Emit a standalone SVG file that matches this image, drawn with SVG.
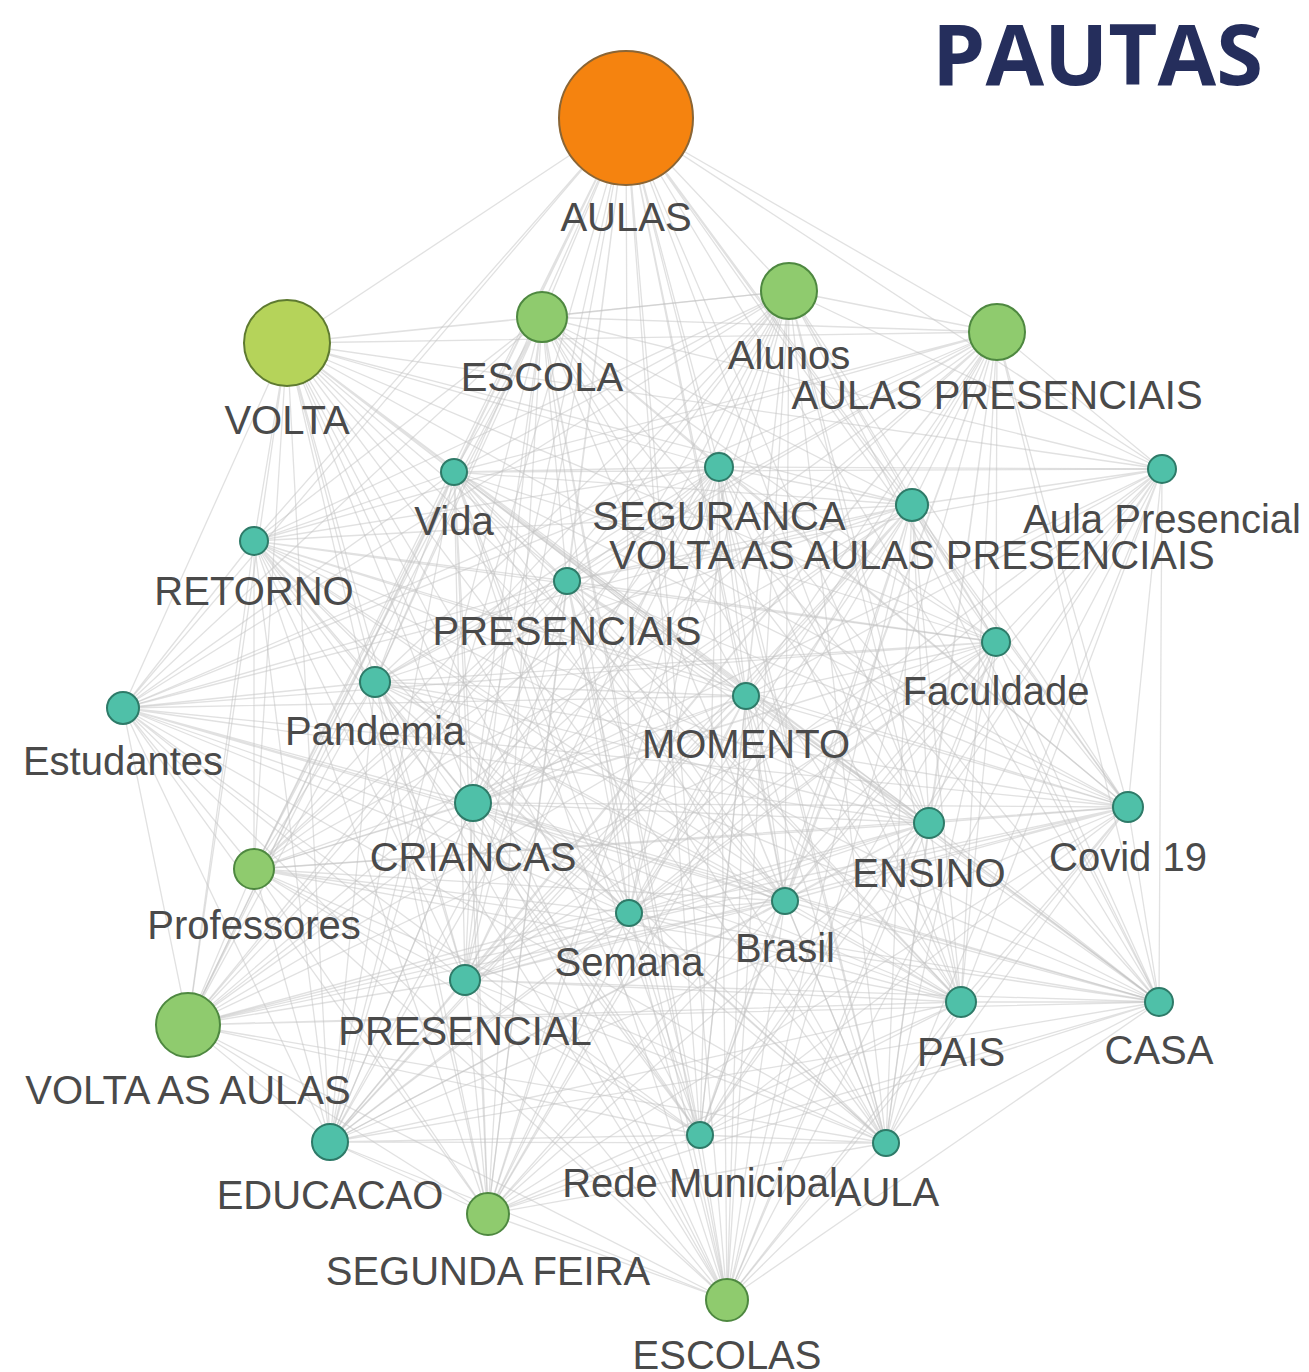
<svg xmlns="http://www.w3.org/2000/svg" width="1309" height="1372" viewBox="0 0 1309 1372">
<style>
.e{fill:none;stroke:#c4c4c4;stroke-width:1.3;opacity:.5}
.t{fill:#4FC0A8;stroke:#2E7A68;stroke-width:2}
.g{fill:#8FCB6E;stroke:#4E8840;stroke-width:2}
.y{fill:#B5D35A;stroke:#5E7A30;stroke-width:2}
.o{fill:#F5830F;stroke:#8A6535;stroke-width:2}
text{font-family:"Liberation Sans",Arial,sans-serif;font-size:40px;fill:#4a4a4a;text-anchor:middle}
.title{font-family:"Open Sans","Liberation Sans",sans-serif;font-weight:bold;font-size:85px;fill:#252E5C;text-anchor:end}
</style>
<rect width="1309" height="1372" fill="#fff"/>
<g id="connectors">
<path class="e" d="M626 118L287 343M626 118L542 317M626 118L789 291M626 118L997 332M626 118L454 472M626 118L719 467M626 118L1162 469M626 118L912 505M626 118L254 541M626 118L567 581M626 118L996 642M626 118L375 682M626 118L746 696M626 118L123 708M626 118L473 803M626 118L929 823M626 118L1128 807M626 118L254 869M626 118L629 913M626 118L785 901M626 118L465 980M626 118L188 1025M626 118L961 1002M626 118L1159 1002M626 118L330 1142M626 118L700 1135M626 118L886 1143M626 118L488 1214M626 118L727 1300"/>
<path class="e" d="M287 343L542 317M287 343L789 291M287 343L997 332M287 343L454 472M287 343L719 467M287 343L1162 469M287 343L912 505M287 343L254 541M287 343L567 581M287 343L996 642M287 343L375 682M287 343L746 696M287 343L123 708M287 343L473 803M287 343L929 823M287 343L1128 807M287 343L254 869M287 343L629 913M287 343L785 901M287 343L465 980M287 343L188 1025M287 343L961 1002M287 343L1159 1002M287 343L330 1142M287 343L700 1135M287 343L886 1143M287 343L488 1214M287 343L727 1300"/>
<path class="e" d="M542 317L789 291M542 317L997 332M542 317L454 472M542 317L719 467M542 317L1162 469M542 317L912 505M542 317L254 541M542 317L567 581M542 317L996 642M542 317L375 682M542 317L746 696M542 317L123 708M542 317L473 803M542 317L929 823M542 317L1128 807M542 317L254 869M542 317L629 913M542 317L785 901M542 317L465 980M542 317L188 1025M542 317L961 1002M542 317L1159 1002M542 317L330 1142M542 317L700 1135M542 317L886 1143M542 317L488 1214M542 317L727 1300"/>
<path class="e" d="M789 291L997 332M789 291L454 472M789 291L719 467M789 291L1162 469M789 291L912 505M789 291L254 541M789 291L567 581M789 291L996 642M789 291L375 682M789 291L746 696M789 291L123 708M789 291L473 803M789 291L929 823M789 291L1128 807M789 291L254 869M789 291L629 913M789 291L785 901M789 291L465 980M789 291L188 1025M789 291L961 1002M789 291L1159 1002M789 291L330 1142M789 291L700 1135M789 291L886 1143M789 291L488 1214M789 291L727 1300"/>
<path class="e" d="M997 332L454 472M997 332L719 467M997 332L1162 469M997 332L912 505M997 332L254 541M997 332L567 581M997 332L996 642M997 332L375 682M997 332L746 696M997 332L123 708M997 332L473 803M997 332L929 823M997 332L1128 807M997 332L254 869M997 332L629 913M997 332L785 901M997 332L465 980M997 332L188 1025M997 332L961 1002M997 332L1159 1002M997 332L330 1142M997 332L700 1135M997 332L886 1143M997 332L488 1214M997 332L727 1300"/>
<path class="e" d="M454 472L719 467M454 472L1162 469M454 472L912 505M454 472L254 541M454 472L567 581M454 472L996 642M454 472L375 682M454 472L746 696M454 472L123 708M454 472L473 803M454 472L929 823M454 472L1128 807M454 472L254 869M454 472L629 913M454 472L785 901M454 472L465 980M454 472L188 1025M454 472L961 1002M454 472L1159 1002M454 472L330 1142M454 472L700 1135M454 472L886 1143M454 472L488 1214M454 472L727 1300"/>
<path class="e" d="M719 467L1162 469M719 467L912 505M719 467L254 541M719 467L567 581M719 467L996 642M719 467L375 682M719 467L746 696M719 467L123 708M719 467L473 803M719 467L929 823M719 467L1128 807M719 467L254 869M719 467L629 913M719 467L785 901M719 467L465 980M719 467L188 1025M719 467L961 1002M719 467L1159 1002M719 467L330 1142M719 467L700 1135M719 467L886 1143M719 467L488 1214M719 467L727 1300"/>
<path class="e" d="M1162 469L912 505M1162 469L567 581M1162 469L996 642M1162 469L746 696M1162 469L473 803M1162 469L929 823M1162 469L1128 807M1162 469L629 913M1162 469L785 901M1162 469L465 980M1162 469L961 1002M1162 469L1159 1002M1162 469L700 1135M1162 469L886 1143M1162 469L727 1300"/>
<path class="e" d="M912 505L254 541M912 505L567 581M912 505L996 642M912 505L375 682M912 505L746 696M912 505L123 708M912 505L473 803M912 505L929 823M912 505L1128 807M912 505L254 869M912 505L629 913M912 505L785 901M912 505L465 980M912 505L188 1025M912 505L961 1002M912 505L1159 1002M912 505L330 1142M912 505L700 1135M912 505L886 1143M912 505L488 1214M912 505L727 1300"/>
<path class="e" d="M254 541L567 581M254 541L996 642M254 541L375 682M254 541L746 696M254 541L123 708M254 541L473 803M254 541L929 823M254 541L1128 807M254 541L254 869M254 541L629 913M254 541L785 901M254 541L465 980M254 541L188 1025M254 541L961 1002M254 541L1159 1002M254 541L330 1142M254 541L700 1135M254 541L886 1143M254 541L488 1214M254 541L727 1300"/>
<path class="e" d="M567 581L996 642M567 581L375 682M567 581L746 696M567 581L123 708M567 581L473 803M567 581L929 823M567 581L1128 807M567 581L254 869M567 581L629 913M567 581L785 901M567 581L465 980M567 581L188 1025M567 581L961 1002M567 581L1159 1002M567 581L330 1142M567 581L700 1135M567 581L886 1143M567 581L488 1214M567 581L727 1300"/>
<path class="e" d="M996 642L375 682M996 642L746 696M996 642L123 708M996 642L473 803M996 642L929 823M996 642L1128 807M996 642L254 869M996 642L629 913M996 642L785 901M996 642L465 980M996 642L188 1025M996 642L961 1002M996 642L1159 1002M996 642L330 1142M996 642L700 1135M996 642L886 1143M996 642L488 1214M996 642L727 1300"/>
<path class="e" d="M375 682L746 696M375 682L123 708M375 682L473 803M375 682L929 823M375 682L1128 807M375 682L254 869M375 682L629 913M375 682L785 901M375 682L465 980M375 682L188 1025M375 682L961 1002M375 682L1159 1002M375 682L330 1142M375 682L700 1135M375 682L886 1143M375 682L488 1214M375 682L727 1300"/>
<path class="e" d="M746 696L123 708M746 696L473 803M746 696L929 823M746 696L1128 807M746 696L254 869M746 696L629 913M746 696L785 901M746 696L465 980M746 696L188 1025M746 696L961 1002M746 696L1159 1002M746 696L330 1142M746 696L700 1135M746 696L886 1143M746 696L488 1214M746 696L727 1300"/>
<path class="e" d="M123 708L473 803M123 708L929 823M123 708L1128 807M123 708L254 869M123 708L629 913M123 708L785 901M123 708L465 980M123 708L188 1025M123 708L961 1002M123 708L1159 1002M123 708L330 1142M123 708L700 1135M123 708L886 1143M123 708L488 1214M123 708L727 1300"/>
<path class="e" d="M473 803L929 823M473 803L1128 807M473 803L254 869M473 803L629 913M473 803L785 901M473 803L465 980M473 803L188 1025M473 803L961 1002M473 803L1159 1002M473 803L330 1142M473 803L700 1135M473 803L886 1143M473 803L488 1214M473 803L727 1300"/>
<path class="e" d="M929 823L1128 807M929 823L254 869M929 823L629 913M929 823L785 901M929 823L465 980M929 823L188 1025M929 823L961 1002M929 823L1159 1002M929 823L330 1142M929 823L700 1135M929 823L886 1143M929 823L488 1214M929 823L727 1300"/>
<path class="e" d="M1128 807L254 869M1128 807L629 913M1128 807L785 901M1128 807L465 980M1128 807L188 1025M1128 807L961 1002M1128 807L1159 1002M1128 807L330 1142M1128 807L700 1135M1128 807L886 1143M1128 807L488 1214M1128 807L727 1300"/>
<path class="e" d="M254 869L629 913M254 869L785 901M254 869L465 980M254 869L188 1025M254 869L961 1002M254 869L1159 1002M254 869L330 1142M254 869L700 1135M254 869L886 1143M254 869L488 1214M254 869L727 1300"/>
<path class="e" d="M629 913L785 901M629 913L465 980M629 913L188 1025M629 913L961 1002M629 913L1159 1002M629 913L330 1142M629 913L700 1135M629 913L886 1143M629 913L488 1214M629 913L727 1300"/>
<path class="e" d="M785 901L465 980M785 901L188 1025M785 901L961 1002M785 901L1159 1002M785 901L330 1142M785 901L700 1135M785 901L886 1143M785 901L488 1214M785 901L727 1300"/>
<path class="e" d="M465 980L188 1025M465 980L961 1002M465 980L1159 1002M465 980L330 1142M465 980L700 1135M465 980L886 1143M465 980L488 1214M465 980L727 1300"/>
<path class="e" d="M188 1025L961 1002M188 1025L1159 1002M188 1025L330 1142M188 1025L700 1135M188 1025L886 1143M188 1025L488 1214M188 1025L727 1300"/>
<path class="e" d="M961 1002L1159 1002M961 1002L330 1142M961 1002L700 1135M961 1002L886 1143M961 1002L488 1214M961 1002L727 1300"/>
<path class="e" d="M1159 1002L330 1142M1159 1002L700 1135M1159 1002L886 1143M1159 1002L488 1214M1159 1002L727 1300"/>
<path class="e" d="M330 1142L700 1135M330 1142L886 1143M330 1142L488 1214M330 1142L727 1300M700 1135L886 1143M700 1135L488 1214M700 1135L727 1300M886 1143L488 1214M886 1143L727 1300M488 1214L727 1300"/>
</g>
<text class="title" x="1263" y="85">PAUTAS</text>
<g id="n-aulas"><circle class="o" cx="626" cy="118" r="67"/><text x="626" y="231">AULAS</text></g>
<g id="n-volta"><circle class="y" cx="287" cy="343" r="43"/><text x="287" y="434">VOLTA</text></g>
<g id="n-escola"><circle class="g" cx="542" cy="317" r="25"/><text x="542" y="391">ESCOLA</text></g>
<g id="n-alunos"><circle class="g" cx="789" cy="291" r="28"/><text x="789" y="369">Alunos</text></g>
<g id="n-aulas-presenciais"><circle class="g" cx="997" cy="332" r="28"/><text x="997" y="409">AULAS PRESENCIAIS</text></g>
<g id="n-vida"><circle class="t" cx="454" cy="472" r="13"/><text x="454" y="535">Vida</text></g>
<g id="n-seguranca"><circle class="t" cx="719" cy="467" r="14"/><text x="719" y="530">SEGURANCA</text></g>
<g id="n-aula-presencial"><circle class="t" cx="1162" cy="469" r="14"/><text x="1162" y="533">Aula Presencial</text></g>
<g id="n-vaap"><circle class="t" cx="912" cy="505" r="16"/><text x="912" y="569">VOLTA AS AULAS PRESENCIAIS</text></g>
<g id="n-retorno"><circle class="t" cx="254" cy="541" r="14"/><text x="254" y="605">RETORNO</text></g>
<g id="n-presenciais"><circle class="t" cx="567" cy="581" r="13"/><text x="567" y="645">PRESENCIAIS</text></g>
<g id="n-faculdade"><circle class="t" cx="996" cy="642" r="14"/><text x="996" y="705">Faculdade</text></g>
<g id="n-pandemia"><circle class="t" cx="375" cy="682" r="15"/><text x="375" y="745">Pandemia</text></g>
<g id="n-momento"><circle class="t" cx="746" cy="696" r="13"/><text x="746" y="758">MOMENTO</text></g>
<g id="n-estudantes"><circle class="t" cx="123" cy="708" r="16"/><text x="123" y="775">Estudantes</text></g>
<g id="n-criancas"><circle class="t" cx="473" cy="803" r="18"/><text x="473" y="871">CRIANCAS</text></g>
<g id="n-ensino"><circle class="t" cx="929" cy="823" r="15"/><text x="929" y="887">ENSINO</text></g>
<g id="n-covid"><circle class="t" cx="1128" cy="807" r="15"/><text x="1128" y="871">Covid 19</text></g>
<g id="n-professores"><circle class="g" cx="254" cy="869" r="20"/><text x="254" y="939">Professores</text></g>
<g id="n-semana"><circle class="t" cx="629" cy="913" r="13"/><text x="629" y="976">Semana</text></g>
<g id="n-brasil"><circle class="t" cx="785" cy="901" r="13"/><text x="785" y="962">Brasil</text></g>
<g id="n-presencial"><circle class="t" cx="465" cy="980" r="15"/><text x="465" y="1045">PRESENCIAL</text></g>
<g id="n-volta-as-aulas"><circle class="g" cx="188" cy="1025" r="32"/><text x="188" y="1104">VOLTA AS AULAS</text></g>
<g id="n-pais"><circle class="t" cx="961" cy="1002" r="15"/><text x="961" y="1066">PAIS</text></g>
<g id="n-casa"><circle class="t" cx="1159" cy="1002" r="14"/><text x="1159" y="1064">CASA</text></g>
<g id="n-educacao"><circle class="t" cx="330" cy="1142" r="18"/><text x="330" y="1209">EDUCACAO</text></g>
<g id="n-rede"><circle class="t" cx="700" cy="1135" r="13"/><text x="700" y="1197">Rede Municipal</text></g>
<g id="n-aula"><circle class="t" cx="886" cy="1143" r="13"/><text x="887" y="1206">AULA</text></g>
<g id="n-segunda"><circle class="g" cx="488" cy="1214" r="21"/><text x="488" y="1285">SEGUNDA FEIRA</text></g>
<g id="n-escolas"><circle class="g" cx="727" cy="1300" r="21"/><text x="727" y="1369">ESCOLAS</text></g>
</svg>
